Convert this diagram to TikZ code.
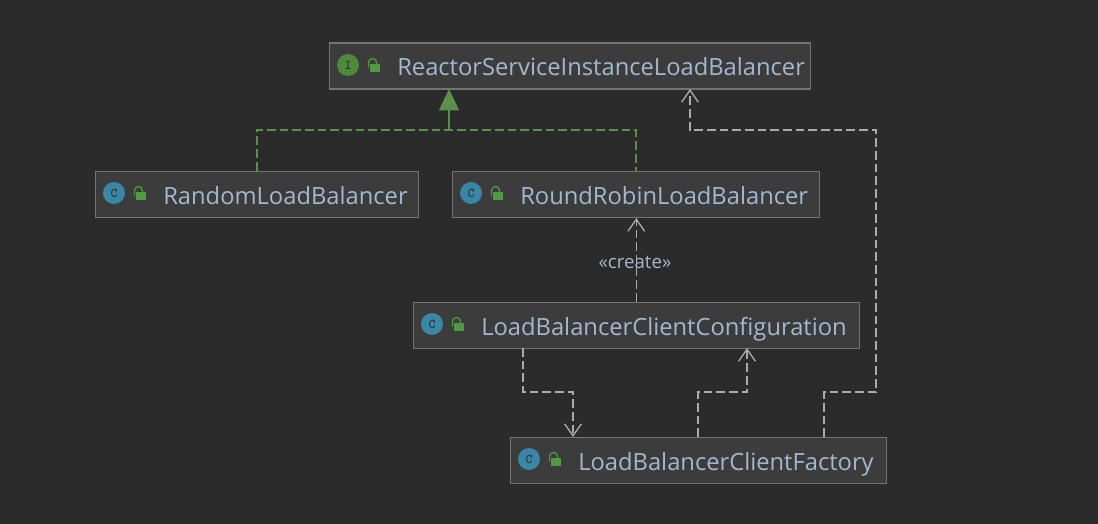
\documentclass[tikz,border=0pt]{standalone}
\usepackage{fontspec}
\setmainfont{Open Sans}
\usepackage{xcolor}
\usetikzlibrary{arrows.meta}
\definecolor{bgdark}{HTML}{2B2B2B}
\definecolor{boxfill}{HTML}{3C3C3C}
\definecolor{boxline}{HTML}{747474}
\definecolor{nametext}{HTML}{A3B8D0}
\definecolor{implgreen}{HTML}{5A8F4C}
\definecolor{lockgreen}{HTML}{4F9A42}
\definecolor{depgray}{HTML}{ABABAB}
\definecolor{classblue}{HTML}{3A86A6}
\definecolor{ifacegreen}{HTML}{4E8A3E}
\tikzset{
	classbox/.style={draw=boxline,fill=boxfill,line width=1.2pt,minimum width=#1*0.75pt,minimum height=34.5pt,inner sep=0pt,anchor=north west},
	classname/.style={text=nametext,font=\fontsize{17.8}{18}\selectfont,anchor=base west,inner sep=0pt},
	kindicon/.style={circle,fill=#1,minimum size=16.5pt,inner sep=0pt,text=black!80,font=\fontsize{10}{10}\selectfont\ttfamily\bfseries},
	dep/.style={depgray,line width=1pt,dash pattern=on 6.5pt off 3pt,-{Straight Barb[length=9pt,width=12.5pt,line width=1pt]}},
	impl/.style={implgreen,line width=1.1pt,dash pattern=on 6.5pt off 3pt},
	implhead/.style={implgreen,line width=1.1pt,-{Triangle[length=16pt,width=15pt]}},
}
\begin{document}
\begin{tikzpicture}[x=0.75pt,y=-0.75pt]
	% Background fixes the page size:
	\fill [bgdark] (0,0) rectangle (1098,524);
	% Class boxes with icon, lock and name:
	\foreach \n/\l/\t/\w/\k/\c/\s in {
		reactor/328.5/42.5/481/I/ifacegreen/ReactorServiceInstanceLoadBalancer,
		random/94.5/170.5/323/C/classblue/RandomLoadBalancer,
		roundrobin/451.5/170.5/367/C/classblue/RoundRobinLoadBalancer,
		config/412.5/301.5/446/C/classblue/LoadBalancerClientConfiguration,
		factory/509.5/436.5/376/C/classblue/LoadBalancerClientFactory}{%
		\node [classbox=\w] (\n) at (\l,\t) {};
		\node [kindicon=\c] (\n icon) at (\l+19.5,\t+22.5) {\k};
		\fill [lockgreen] (\l+41.5,\t+21.5) rectangle (\l+51.5,\t+29.5);
		\draw [lockgreen,line width=1pt] (\l+40,\t+25) -- (\l+40,\t+20) arc (180:360:4) -- (\l+48,\t+21.5);
		\node [classname] (\n name) at (\l+68.5,\t+33.5) {\s};
	}
	% Realization arrows:
	\draw [impl] (random.north) |- (roundrobin.north |- 0,130) -- (roundrobin.north);
	\coordinate (reactorin) at (449,89);
	\draw [implhead] (reactorin |- 0,130) -- (reactorin);
	% Dependencies:
	\draw [dep] (config.north) -- (config.north |- roundrobin.south);
	\coordinate (configout) at (523,348);
	\coordinate (factoryin) at (573,437);
	\coordinate (factoryout) at (698,437);
	\coordinate (configin) at (747,348);
	\coordinate (factoryup) at (824,437);
	\coordinate (reactorback) at (690,89);
	\draw [dep] (configout) -- (523,392) -- (573,392) -- (factoryin);
	\draw [dep] (factoryout) -- (698,392) -- (747,392) -- (configin);
	\draw [dep] (factoryup) -- (824,392) -- (876,392) -- (876,130) -- (690,130) -- (reactorback);
	\node [text=nametext,font=\fontsize{14}{14}\selectfont,inner sep=0pt] (createlabel) at (635,262) {«create»};
\end{tikzpicture}
\end{document}
